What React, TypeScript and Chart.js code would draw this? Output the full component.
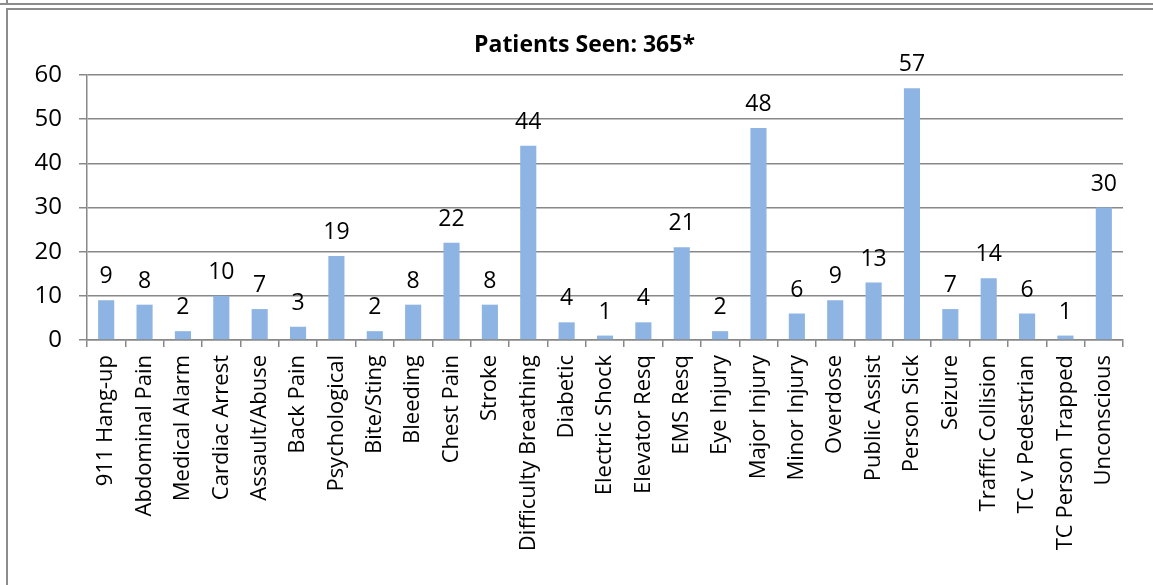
import React, { useEffect, useRef } from "react";
import Chart from "chart.js/auto";

const categories = [
  "911 Hang-up", "Abdominal Pain", "Medical Alarm", "Cardiac Arrest", "Assault/Abuse",
  "Back Pain", "Psychological", "Bite/Sting", "Bleeding", "Chest Pain", "Stroke",
  "Difficulty Breathing", "Diabetic", "Electric Shock", "Elevator Resq", "EMS Resq",
  "Eye Injury", "Major Injury", "Minor Injury", "Overdose", "Public Assist", "Person Sick",
  "Seizure", "Traffic Collision", "TC v Pedestrian", "TC Person Trapped", "Unconscious",
];
const patientCounts = [9, 8, 2, 10, 7, 3, 19, 2, 8, 22, 8, 44, 4, 1, 4, 21, 2, 48, 6, 9, 13, 57, 7, 14, 6, 1, 30];
const yMin = 0;
const yMax = 60;
const yStep = 10;
const chartTitle = "Patients Seen: 365*";

const FONT = "'Open Sans', 'Noto Sans', sans-serif";
const GRID = "#888888";

export default function App() {
  const ref = useRef<HTMLCanvasElement | null>(null);

  useEffect(() => {
    if (!ref.current) return;
    const titlePlugin = {
      id: "customTitle",
      afterDraw(chart: any) {
        const ctx = chart.ctx;
        ctx.save();
        ctx.font = `bold 23px ${FONT}`;
        ctx.fillStyle = "#000";
        ctx.textAlign = "center";
        ctx.textBaseline = "middle";
        ctx.fillText(chartTitle, 576.5, 35);
        ctx.restore();
      },
    };
    const labelPlugin = {
      id: "valueLabels",
      afterDatasetsDraw(chart: any) {
        const ctx = chart.ctx;
        const meta = chart.getDatasetMeta(0);
        ctx.save();
        ctx.font = `23px ${FONT}`;
        ctx.fillStyle = "#000";
        ctx.textAlign = "center";
        ctx.textBaseline = "alphabetic";
        meta.data.forEach((bar: any, i: number) => {
          ctx.fillText(String(chart.data.datasets[0].data[i]), bar.x, bar.y - 17);
        });
        ctx.restore();
      },
    };
    const chart = new Chart(ref.current, {
      type: "bar",
      data: {
        labels: categories,
        datasets: [
          {
            data: patientCounts,
            backgroundColor: "#8DB4E2",
            borderWidth: 0,
            barPercentage: 0.42,
            categoryPercentage: 1,
          },
        ],
      },
      options: {
        responsive: false,
        animation: false,
        devicePixelRatio: 1,
        layout: { padding: { left: 0, right: 30, top: 65, bottom: 0 } },
        plugins: {
          legend: { display: false },
          tooltip: { enabled: false },
          title: { display: false },
        },
        scales: {
          x: {
            offset: true,
            grid: {
              offset: true,
              drawOnChartArea: false,
              drawTicks: true,
              tickLength: 7,
              color: GRID,
              lineWidth: 1.5,
            },
            border: { display: true, color: GRID, width: 1.5 },
            ticks: {
              autoSkip: false,
              minRotation: 90,
              maxRotation: 90,
              padding: 8,
              color: "#000",
              font: { family: FONT, size: 22 },
            },
            afterFit(scale: any) {
              scale.height = 245;
            },
          },
          y: {
            min: yMin,
            max: yMax,
            ticks: {
              stepSize: yStep,
              padding: 17,
              color: "#000",
              font: { family: FONT, size: 24 },
            },
            grid: {
              color: GRID,
              lineWidth: 1.5,
              drawTicks: true,
              tickLength: 8,
            },
            border: { display: true, color: GRID, width: 1.5 },
            afterFit(scale: any) {
              scale.width = 79;
            },
          },
        },
      },
      plugins: [titlePlugin, labelPlugin],
    });
    return () => chart.destroy();
  }, []);

  return (
    <div style={{ position: "absolute", left: 0, top: 0, width: 1153, height: 585, background: "#fff", overflow: "hidden" }}>
      <div style={{ position: "absolute", left: 6, top: 0, width: 2, height: 4, background: "#8c8c8c" }} />
      <div style={{ position: "absolute", left: 0, top: 3, width: 1153, height: 2, background: "#8c8c8c" }} />
      <div style={{ position: "absolute", left: 6, top: 8, width: 1147, height: 2, background: "#8c8c8c" }} />
      <div style={{ position: "absolute", left: 6, top: 8, width: 2, height: 577, background: "#8c8c8c" }} />
      <canvas ref={ref} width={1145} height={575} style={{ position: "absolute", left: 8, top: 10, width: 1145, height: 575 }} />
    </div>
  );
}
